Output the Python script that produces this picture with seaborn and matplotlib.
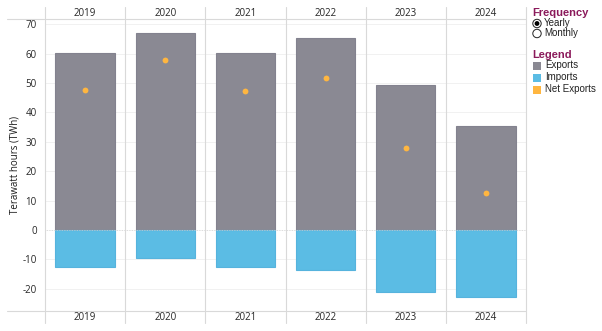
import matplotlib
matplotlib.use("Agg")
import matplotlib.pyplot as plt
import seaborn as sns
import pandas as pd
from matplotlib.lines import Line2D
from matplotlib.patches import Rectangle, Circle

years = ["2019", "2020", "2021", "2022", "2023", "2024"]
exports = [60.2, 67.2, 60.1, 65.3, 49.2, 35.4]
imports = [-12.7, -9.4, -12.7, -13.7, -21.3, -23.0]
net_exports = [47.5, 57.8, 47.4, 51.6, 27.9, 12.4]
yticks = [-20, -10, 0, 10, 20, 30, 40, 50, 60, 70]

c_exp = "#8a8993"
c_imp = "#5bbce4"
c_net = "#ffb640"
maroon = "#8b1a5b"

sns.set_theme(style="white")
plt.rcParams['font.family'] = ['Open Sans', 'DejaVu Sans']

W, H = 602, 331
fig = plt.figure(figsize=(W / 100, H / 100), dpi=100)
L, R, T, B = 45, 526, 19, 311
ax = fig.add_axes([L / W, 1 - B / H, (R - L) / W, (B - T) / H])

df = pd.DataFrame({
    "year": years * 2,
    "series": ["Exports"] * 6 + ["Imports"] * 6,
    "value": exports + imports,
})
sns.barplot(data=df, x="year", y="value", hue="series", dodge=False,
            palette={"Exports": c_exp, "Imports": c_imp}, width=0.74,
            saturation=1, order=years, ax=ax, legend=False, linewidth=0.8,
            zorder=3)
for p in ax.patches:
    fc = p.get_facecolor()
    p.set_edgecolor((fc[0] * 0.95, fc[1] * 0.95, fc[2] * 0.97, 1))
net_df = pd.DataFrame({"year": years, "value": net_exports})
sns.stripplot(data=net_df, x="year", y="value", order=years, jitter=False,
              color=c_net, size=4.2, linewidth=0, ax=ax, zorder=5)

tc = "#262626"
ax.set_xlim(-0.5, 5.5)
ax.set_ylim(-27.6, 71.8)
ax.set_yticks(yticks)
ax.set_yticklabels([str(v) for v in yticks], fontsize=7, color=tc)
ax.tick_params(axis="y", length=0, pad=6)
ax.set_xticks([])
ax.set_xlabel("")
ax.set_ylabel("")
for s in ax.spines.values():
    s.set_visible(False)
for v in yticks:
    if v == 0:
        ax.axhline(0, color="#cfcfcf", lw=0.6, ls=(0, (1, 1)), zorder=4)
    else:
        ax.axhline(v, color="#efefef", lw=0.6, zorder=1)

# Panel separators and header/footer lines in figure coordinates
lc = "#d9d9d9"
for i in range(7):
    xf = (L + i * (R - L) / 6) / W
    fig.add_artist(Line2D([xf, xf], [1 - 7 / H, 1 - 323 / H], color=lc, lw=0.8))
for yy in (T, B):
    fig.add_artist(Line2D([7 / W, R / W], [1 - yy / H, 1 - yy / H], color=lc, lw=0.8))

for i, y in enumerate(years):
    xc = (L + (i + 0.5) * (R - L) / 6) / W
    fig.text(xc, 1 - 13 / H, y, ha="center", va="center", fontsize=7, color=tc)
    fig.text(xc, 1 - 318 / H, y, ha="center", va="center", fontsize=7, color=tc)

fig.text(15 / W, 1 - 165 / H, "Terawatt hours (TWh)", rotation=90, ha="center",
         va="center", fontsize=7, color="#1a1a1a")

# Right-side legend
lf = ['Liberation Sans', 'DejaVu Sans']
fig.text(532 / W, 1 - 13 / H, "Frequency", fontsize=8, color=maroon,
         fontweight="bold", va="center", family=lf)
lax = fig.add_axes([0, 0, 1, 1], facecolor="none")
lax.set_xlim(0, W)
lax.set_ylim(H, 0)
lax.axis("off")
lax.add_patch(Circle((537, 23.5), 4.2, facecolor="white", edgecolor="#222222", lw=0.7))
lax.add_patch(Circle((537, 23.5), 2.4, facecolor="black", edgecolor="none"))
lax.add_patch(Circle((537, 33.5), 4.2, facecolor="white", edgecolor="#222222", lw=0.7))
fig.text(544 / W, 1 - 23.5 / H, "Yearly", fontsize=7, color="#222222", va="center", family=lf)
fig.text(544 / W, 1 - 33.5 / H, "Monthly", fontsize=7, color="#222222", va="center", family=lf)

fig.text(532 / W, 1 - 55 / H, "Legend", fontsize=8, color=maroon,
         fontweight="bold", va="center", family=lf)
for k, (lab, col) in enumerate([("Exports", c_exp), ("Imports", c_imp), ("Net Exports", c_net)]):
    yy = 65.5 + k * 12
    lax.add_patch(Rectangle((533, yy - 4), 8, 8, facecolor=col, edgecolor="none"))
    fig.text(545 / W, 1 - yy / H, lab, fontsize=7, color="#222222", va="center", family=lf)

fig.savefig("out.png", dpi=100)
